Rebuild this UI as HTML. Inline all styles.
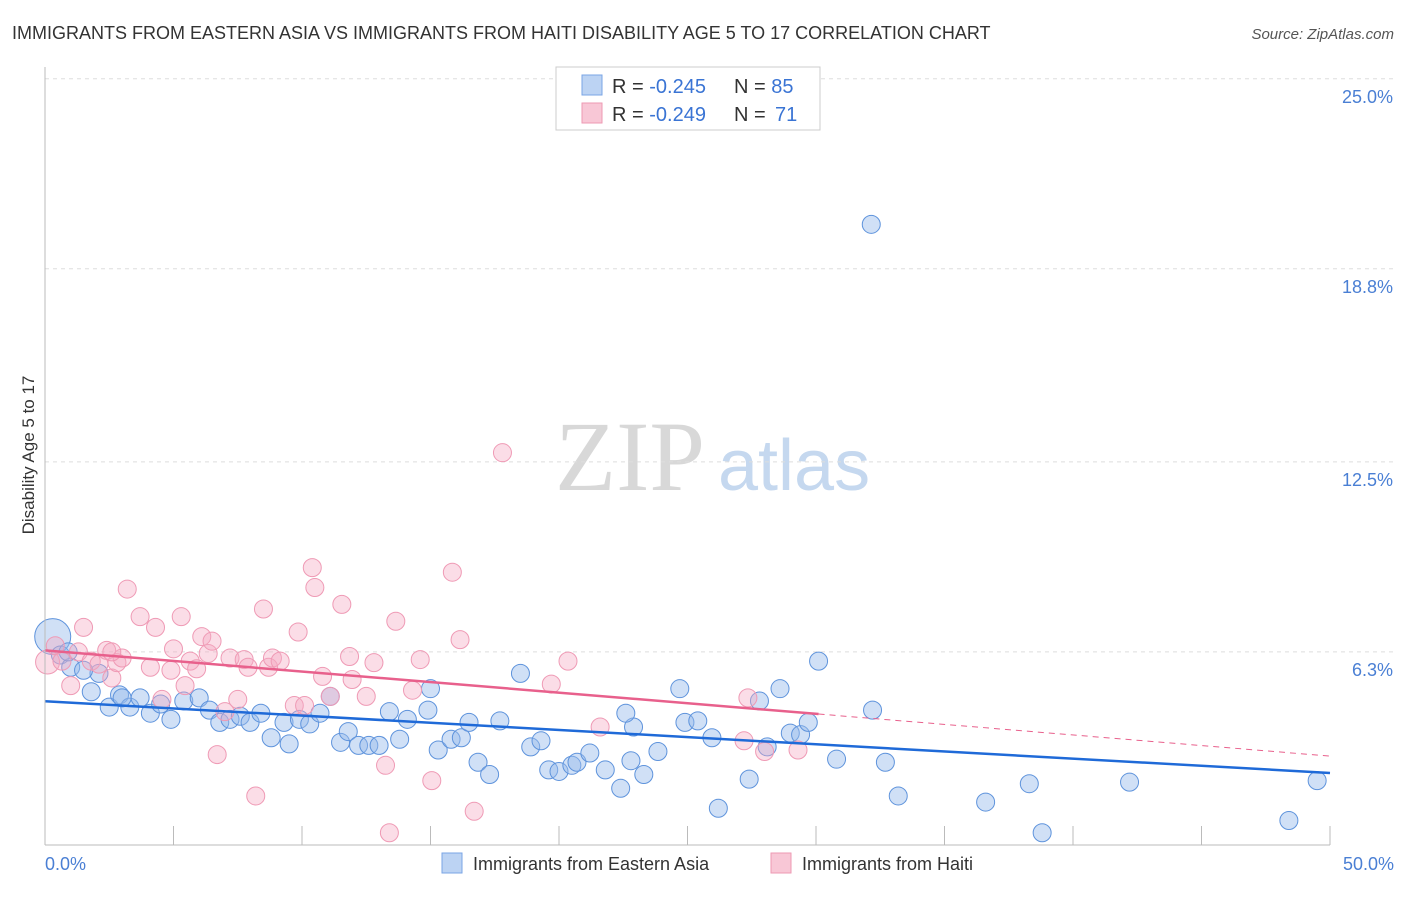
<!DOCTYPE html>
<html><head><meta charset="utf-8"><style>
body{margin:0;background:#fff;font-family:"Liberation Sans",sans-serif;}
</style></head><body>
<svg id="chart" width="1406" height="892" xmlns="http://www.w3.org/2000/svg" font-family="Liberation Sans, sans-serif">
<text x="12" y="39" font-size="18" fill="#333">IMMIGRANTS FROM EASTERN ASIA VS IMMIGRANTS FROM HAITI DISABILITY AGE 5 TO 17 CORRELATION CHART</text>
<text x="1394" y="39" font-size="15" fill="#555" text-anchor="end" font-style="italic">Source: ZipAtlas.com</text>
<text x="555" y="490" font-size="100" fill="#d8d8d8" style="font-family:'Liberation Serif',serif">ZIP</text>
<text x="718" y="490" font-size="72" fill="#c5d8ef">atlas</text>
<text transform="translate(34,455) rotate(-90)" font-size="17" fill="#333" text-anchor="middle">Disability Age 5 to 17</text>
<g id="grid"></g><g id="pts"></g><g id="lines"></g>
<line x1="45" y1="67" x2="45" y2="845" stroke="#bbb"/>
<line x1="45" y1="845" x2="1330" y2="845" stroke="#bbb"/>
<text x="45" y="870" font-size="18" fill="#4a7fd4">0.0%</text>
<text x="1394" y="870" font-size="18" fill="#4a7fd4" text-anchor="end">50.0%</text>
<g>
<rect x="556" y="67" width="264" height="63" fill="#fff" stroke="#ccc"/>
<rect x="582" y="75" width="20" height="20" fill="#bcd3f3" stroke="#7aa5e6"/>
<rect x="582" y="103" width="20" height="20" fill="#f8c7d6" stroke="#ee9ab3"/>
<text x="612" y="93" font-size="20" fill="#333">R = <tspan fill="#3a74d4">-0.245</tspan></text>
<text x="734" y="93" font-size="20" fill="#333">N = <tspan fill="#3a74d4">85</tspan></text>
<text x="612" y="121" font-size="20" fill="#333">R = <tspan fill="#3a74d4">-0.249</tspan></text>
<text x="734" y="121" font-size="20" fill="#333">N = </text>
<text x="775" y="121" font-size="20" fill="#3a74d4">71</text>
</g>
<g>
<rect x="442" y="853" width="20" height="20" fill="#bcd3f3" stroke="#7aa5e6"/>
<text x="473" y="870" font-size="18" fill="#333">Immigrants from Eastern Asia</text>
<rect x="771" y="853" width="20" height="20" fill="#f8c7d6" stroke="#ee9ab3"/>
<text x="802" y="870" font-size="18" fill="#333">Immigrants from Haiti</text>
</g>
</svg>
<script>
const yTicks=[6.3,12.5,18.8,25.0];
const blueX=[0.3,0.6,1.0,1.8,2.1,2.5,2.9,3.3,3.7,4.1,4.5,4.9,5.4,6.0,6.4,6.8,7.2,7.6,7.98,8.4,8.8,9.3,9.5,9.9,10.3,10.7,11.1,11.5,11.8,12.2,12.6,13.0,13.4,13.8,14.1,14.9,15.3,15.8,16.2,16.5,16.85,17.3,17.7,18.5,18.9,19.3,19.6,20.0,20.5,20.7,21.2,21.8,22.4,22.8,22.9,23.3,23.85,24.7,24.9,25.4,25.95,26.2,27.4,27.8,28.1,28.6,29.0,29.4,29.7,30.1,30.8,32.2,32.7,33.2,36.6,38.3,38.8,42.2,48.4,49.5,15.0,22.6,0.9,1.5,3.0,32.15];
const blueY=[6.8,6.2,5.8,5.0,5.6,4.5,4.9,4.5,4.8,4.3,4.6,4.1,4.7,4.8,4.4,4.0,4.1,4.2,4.0,4.3,3.5,4.0,3.3,4.1,3.95,4.3,4.85,3.35,3.7,3.25,3.25,3.25,4.35,3.45,4.1,4.4,3.1,3.45,3.5,4.0,2.7,2.3,4.05,5.6,3.2,3.4,2.45,2.4,2.6,2.7,3.0,2.45,1.85,2.75,3.85,2.3,3.05,5.1,4.0,4.05,3.5,1.2,2.15,4.7,3.2,5.1,3.65,3.6,4.0,6.0,2.8,4.4,2.7,1.6,1.4,2.0,0.4,2.05,0.8,2.1,5.1,4.3,6.3,5.7,4.8,20.25];
const pinkX=[0.1,0.4,0.66,1.0,1.3,1.5,1.8,2.1,2.4,2.6,2.8,3.0,3.2,3.7,4.1,4.3,4.55,4.9,5.0,5.3,5.45,5.65,5.9,6.1,6.35,6.5,6.7,7.0,7.2,7.5,7.75,7.9,8.2,8.5,8.7,8.85,9.15,9.7,9.85,10.1,10.4,10.5,10.8,11.1,11.55,11.85,11.95,12.5,12.8,13.25,13.65,14.3,14.6,15.05,15.85,16.15,16.7,17.8,19.7,20.35,21.6,27.2,27.35,28.0,29.3,13.4,2.6];
const pinkY=[5.97,6.5,6.0,5.2,6.3,7.1,6.0,5.9,6.35,5.45,5.95,6.1,8.35,7.45,5.8,7.1,4.75,5.7,6.4,7.45,5.2,6.0,5.75,6.8,6.25,6.65,2.95,4.35,6.1,4.75,6.05,5.8,1.6,7.7,5.8,6.1,6.0,4.55,6.95,4.55,9.05,8.4,5.5,4.85,7.85,6.15,5.4,4.85,5.95,2.6,7.3,5.05,6.05,2.1,8.9,6.7,1.1,12.8,5.25,6.0,3.85,3.4,4.8,3.05,3.1,0.4,6.3];
const blueLine=[4.69,2.35]; const pinkLine=[6.35,2.9]; const pinkSolidEnd=30.1;
const X=v=>45+v/50*1285, Y=v=>845-v*30.65;
const NS="http://www.w3.org/2000/svg";
function mk(p,t,a){const e=document.createElementNS(NS,t);for(const k in a)e.setAttribute(k,a[k]);p.appendChild(e);return e;}
const grid=document.getElementById('grid');
yTicks.forEach((t,i)=>{
 const l=mk(grid,'line',{x1:45,x2:1394,y1:Y(t),y2:Y(t),stroke:'#ddd','stroke-dasharray':'4,4'});
 
 
 const tx=mk(grid,'text',{x:1393,y:Y(t)+24,'font-size':18,fill:'#4a7fd4','text-anchor':'end'});
 tx.textContent=t.toFixed(1)+'%';
 
 
});
for(let i=1;i<=10;i++){const x=45+i*128.5;
 const l=mk(grid,'line',{x1:x,x2:x,y1:826,y2:845,stroke:'#bbb'});
 
 }
const pts=document.getElementById('pts');
blueX.forEach((x,i)=>{const c=mk(pts,'circle',{cx:X(x),cy:Y(blueY[i]),r:i==0?18:9,fill:'rgba(150,186,236,0.45)',stroke:'#5e93dc','stroke-width':1});
 
 });
pinkX.forEach((x,i)=>{const c=mk(pts,'circle',{cx:X(x),cy:Y(pinkY[i]),r:i==0?12:9,fill:'rgba(245,170,195,0.4)',stroke:'#ef9ab5','stroke-width':1});
 
 });
const ln=document.getElementById('lines');
const pl=v=>pinkLine[0]+(pinkLine[1]-pinkLine[0])*v/50;
let a=mk(ln,'line',{x1:X(0),y1:Y(blueLine[0]),x2:X(50),y2:Y(blueLine[1]),stroke:'#1f6ad8','stroke-width':2.5});


let b=mk(ln,'line',{x1:X(0),y1:Y(pl(0)),x2:X(pinkSolidEnd),y2:Y(pl(pinkSolidEnd)),stroke:'#e8608c','stroke-width':2.5});


let c=mk(ln,'line',{x1:X(pinkSolidEnd),y1:Y(pl(pinkSolidEnd)),x2:X(50),y2:Y(pl(50)),stroke:'#e8608c','stroke-width':1,'stroke-dasharray':'6,5'});


</script>
</body></html>
